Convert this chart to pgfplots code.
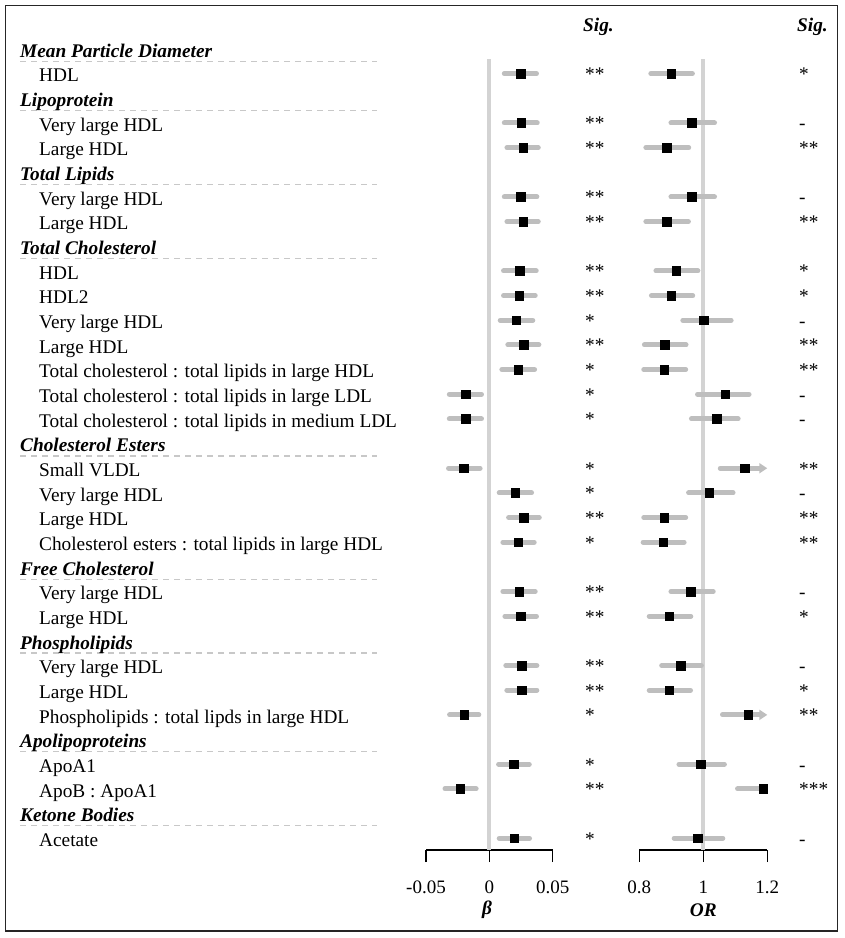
\documentclass[border=0pt]{standalone}
\usepackage{fontspec}
\setmainfont{Liberation Serif}
\usepackage{pgfplots}
\pgfplotsset{compat=1.18}
\usepackage{pgfplotstable}
\usetikzlibrary{arrows.meta}
\definecolor{refgray}{RGB}{211,211,211}
\definecolor{cigray}{RGB}{190,190,190}
\definecolor{dashgray}{RGB}{200,200,200}

% r = -row ; b, lo, hi = beta and CI ; o, olo, ohi = OR and CI
\pgfplotstableread{
r    b        lo       hi       o       olo     ohi
-1   0.0248   0.0118   0.0372   0.900   0.836   0.966
-3   0.0250   0.0118   0.0378   0.964   0.899   1.035
-4   0.0266   0.0139   0.0386   0.886   0.8205  0.9545
-6   0.0248   0.0118   0.0375   0.964   0.899   1.035
-7   0.0266   0.0139   0.0386   0.885   0.8205  0.9535
-9   0.0240   0.0112   0.0370   0.915   0.852   0.983
-10  0.0235   0.0112   0.0362   0.900   0.838   0.967
-11  0.0213   0.0086   0.0343   1.001   0.936   1.087
-12  0.0269   0.0146   0.0391   0.880   0.816   0.946
-13  0.0227   0.0099   0.0357   0.878   0.814   0.945
-14  -0.0189  -0.0316  -0.0062  1.068   0.982   1.143
-15  -0.0189  -0.0316  -0.0062  1.042   0.963   1.109
-17  -0.0202  -0.0322  -0.0073  1.129   1.129   1.129
-18  0.0205   0.0078   0.0333   1.019   0.954   1.093
-19  0.0269   0.0152   0.0394   0.878   0.814   0.945
-20  0.0227   0.0107   0.0354   0.875   0.812   0.940
-22  0.0235   0.0107   0.0362   0.9615  0.899   1.031
-23  0.0248   0.0123   0.0372   0.893   0.831   0.961
-25  0.0256   0.0130   0.0375   0.930   0.870   0.994
-26  0.0256   0.0138   0.0375   0.893   0.831   0.960
-27  -0.0200  -0.0314  -0.0083  1.140   1.140   1.140
-29  0.0192   0.0073   0.0315   0.992   0.924   1.066
-30  -0.0231  -0.0350  -0.0104  1.1875  1.107   1.192
-32  0.0195   0.0078   0.0317   0.9825  0.909   1.061
}\data

\pgfplotsset{fp/.style={
  scale only axis, height=801pt, ymin=-32.48, ymax=0,
  axis x line*=bottom, axis y line=none, clip=false,
  scaled x ticks=false,
  tick align=outside, major tick length=12pt,
  axis line style={line width=1.3pt, black},
  every tick/.style={line width=1.3pt, black},
  tick label style={font=\fontsize{19}{23}\selectfont},
  xticklabel style={anchor=base, yshift=-31pt},
  ytick=\empty},
  cibar/.style={only marks, mark=none,
    error bars/.cd, x dir=both, x explicit, error mark=none,
    error bar style={draw=cigray, line width=5pt, line cap=round}},
  sq/.style={only marks, mark=square*, mark size=4.3pt, black, mark options={fill=black, draw=black}}
}

\tikzset{lab/.style={font=\fontsize{19.3}{23}\selectfont, inner sep=0pt}}

\begin{document}
\begin{tikzpicture}
\path[use as bounding box] (0,0) rectangle (845pt,-938pt);
\draw[line width=1.8pt, black!85] (5.5pt,-5.5pt) rectangle (837.5pt,-931pt);

% beta panel
\begin{axis}[fp, at={(426pt,-850pt)}, anchor=south west, width=126.7pt,
  xmin=-0.05, xmax=0.05, xtick={-0.05,0,0.05}, xticklabels={-0.05,0,0.05}]
\addplot[refgray, line width=4.3pt] coordinates {(0,-0.42) (0,-32.48)};
\addplot[cibar] table[x=b, y=r, x error plus expr=\thisrow{hi}-\thisrow{b}, x error minus expr=\thisrow{b}-\thisrow{lo}] {\data};
\addplot[sq] table[x=b, y=r] {\data};
\end{axis}

% OR panel
\begin{axis}[fp, at={(639.3pt,-850pt)}, anchor=south west, width=128pt,
  xmin=0.8, xmax=1.2, xtick={0.8,1,1.2}, xticklabels={0.8,1,1.2}]
\addplot[refgray, line width=4.3pt] coordinates {(1,-0.42) (1,-32.48)};
\addplot[cibar] table[x=o, y=r, x error plus expr=\thisrow{ohi}-\thisrow{o}, x error minus expr=\thisrow{o}-\thisrow{olo}] {\data};
\addplot[cigray, line width=5pt, line cap=round, -{Triangle[length=8pt, width=10pt]}] coordinates {(1.053,-17) (1.2,-17)};
\addplot[cigray, line width=5pt, line cap=round, -{Triangle[length=8pt, width=10pt]}] coordinates {(1.060,-27) (1.2,-27)};
\addplot[sq] table[x=o, y=r] {\data};
\end{axis}

% axis titles
\node[lab, anchor=base] at (487pt,-914pt) {\textbf{\textit{β}}};
\node[lab, anchor=base] at (703.3pt,-916pt) {\textbf{\textit{OR}}};
\node[lab, anchor=base west] at (583pt,-31.5pt) {\textbf{\textit{Sig.}}};
\node[lab, anchor=base west] at (797pt,-31.5pt) {\textbf{\textit{Sig.}}};

% group headers
\foreach \r/\t in {0/Mean Particle Diameter, 2/Lipoprotein, 5/Total Lipids, 8/Total Cholesterol,
  16/Cholesterol Esters, 21/Free Cholesterol, 24/Phospholipids, 28/Apolipoproteins, 31/Ketone Bodies}{
  \draw[dashgray, line width=1.3pt, dash pattern=on 6pt off 5pt] (20pt,{-(61.3+24.66*\r)*1pt}) -- (377pt,{-(61.3+24.66*\r)*1pt});
  \node[lab, anchor=base west] at (20pt,{-(57.3+24.66*\r)*1pt}) {\textbf{\textit{\t}}};
}
% row labels
\foreach \r/\t in {1/HDL, 3/Very large HDL, 4/Large HDL, 6/Very large HDL, 7/Large HDL,
  9/HDL, 10/HDL2, 11/Very large HDL, 12/Large HDL,
  13/Total cholesterol : total lipids in large HDL,
  14/Total cholesterol : total lipids in large LDL,
  15/Total cholesterol : total lipids in medium LDL,
  17/Small VLDL, 18/Very large HDL, 19/Large HDL,
  20/Cholesterol esters : total lipids in large HDL,
  22/Very large HDL, 23/Large HDL, 25/Very large HDL, 26/Large HDL,
  27/Phospholipids : total lipds in large HDL,
  29/ApoA1, 30/ApoB : ApoA1, 32/Acetate}{
  \node[lab, anchor=base west] at (39pt,{-(57.3+24.66*\r)*1pt}) {\t};
}
% significance, beta
\foreach \r/\s in {1/**, 3/**, 4/**, 6/**, 7/**, 9/**, 10/**, 11/*, 12/**, 13/*, 14/*, 15/*,
  17/*, 18/*, 19/**, 20/*, 22/**, 23/**, 25/**, 26/**, 27/*, 29/*, 30/**, 32/*}{
  \node[lab, anchor=base west] at (585pt,{-(56+24.66*\r)*1pt}) {\s};
}
% significance, OR
\foreach \r/\s in {1/*, 3/-, 4/**, 6/-, 7/**, 9/*, 10/*, 11/-, 12/**, 13/**, 14/-, 15/-,
  17/**, 18/-, 19/**, 20/**, 22/-, 23/*, 25/-, 26/*, 27/**, 29/-, 30/***, 32/-}{
  \node[lab, anchor=base west] at (799pt,{-(56+24.66*\r)*1pt}) {\s};
}
\end{tikzpicture}
\end{document}
